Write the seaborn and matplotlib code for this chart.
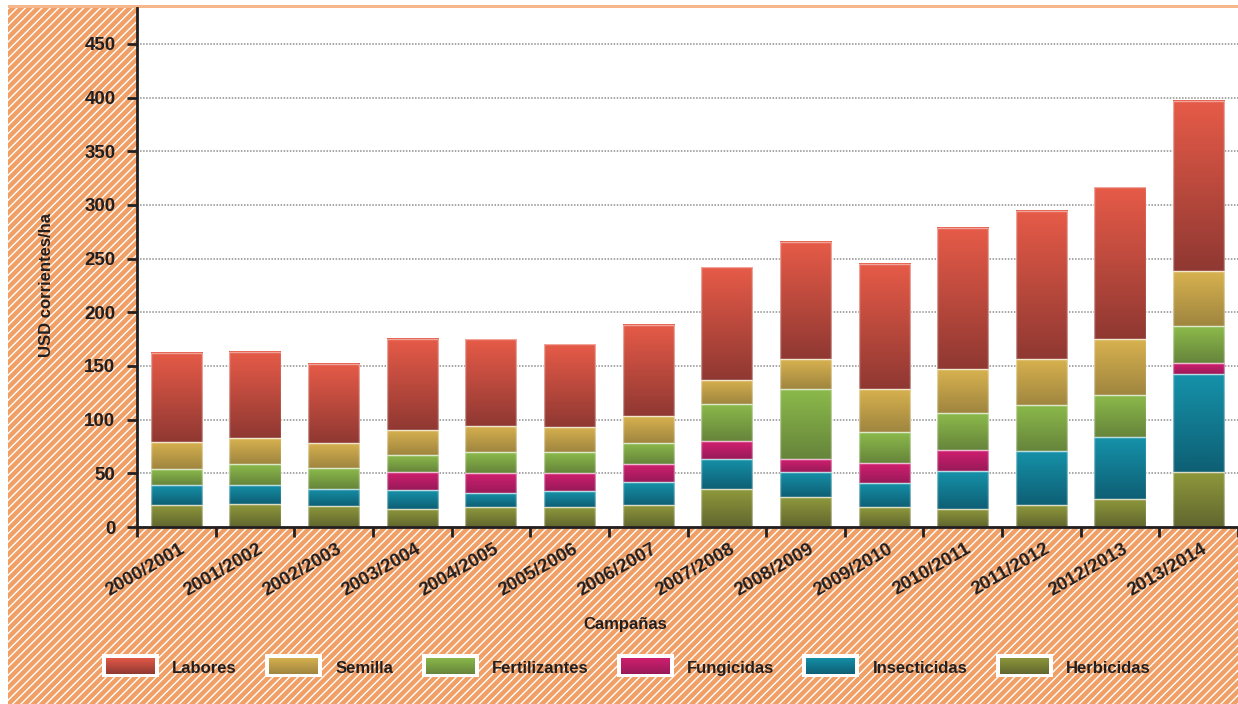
import numpy as np
import pandas as pd
import matplotlib
matplotlib.use("Agg")
import matplotlib.pyplot as plt
import seaborn as sns
from matplotlib.colors import LinearSegmentedColormap
from matplotlib.patches import Rectangle
from matplotlib.transforms import ScaledTranslation

# ---- data (USD corrientes/ha por campaña) ----
campanas = ["2000/2001", "2001/2002", "2002/2003", "2003/2004", "2004/2005",
            "2005/2006", "2006/2007", "2007/2008", "2008/2009", "2009/2010",
            "2010/2011", "2011/2012", "2012/2013", "2013/2014"]
herbicidas = [20.5, 21.4, 19.6, 17.1, 18.4, 18.4, 20.5, 35.1, 27.7, 18.4, 17.1, 20.2, 26.1, 51.5]
insecticidas = [18.6, 18.0, 16.1, 17.1, 13.6, 14.9, 21.1, 28.3, 23.5, 22.6, 34.8, 50.6, 57.5, 91.3]
fungicidas = [0.0, 0.0, 0.0, 17.0, 18.6, 17.3, 16.8, 16.4, 11.9, 18.6, 20.1, 0.0, 0.0, 10.0]
fertilizantes = [14.6, 19.0, 19.0, 15.6, 19.0, 19.0, 19.6, 34.5, 65.5, 28.6, 34.2, 42.9, 39.4, 34.2]
semilla = [25.3, 24.2, 23.3, 23.3, 24.5, 23.9, 25.1, 22.7, 27.6, 40.1, 40.7, 42.5, 51.9, 51.2]
labores = [83.0, 80.4, 74.0, 85.1, 80.9, 77.0, 85.1, 105.2, 109.3, 117.0, 132.0, 138.2, 141.6, 158.4]

y_ticks = [0, 50, 100, 150, 200, 250, 300, 350, 400, 450]

# stacking order (bottom -> top) with gradient colours (bottom, top)
layers = [
    ("Herbicidas", herbicidas, "#61662f", "#8f993b"),
    ("Insecticidas", insecticidas, "#0e5f74", "#1592aa"),
    ("Fungicidas", fungicidas, "#981a59", "#d31f70"),
    ("Fertilizantes", fertilizantes, "#66843b", "#8cbb4b"),
    ("Semilla", semilla, "#9f853f", "#d8b24f"),
    ("Labores", labores, "#8f3832", "#e75b48"),
]
legend_order = ["Labores", "Semilla", "Fertilizantes", "Fungicidas", "Insecticidas", "Herbicidas"]

df = pd.DataFrame({"campana": campanas, "Herbicidas": herbicidas, "Insecticidas": insecticidas,
                   "Fungicidas": fungicidas, "Fertilizantes": fertilizantes,
                   "Semilla": semilla, "Labores": labores})

sns.set_style("white")
plt.rcParams["font.family"] = ["Liberation Sans", "DejaVu Sans"]
plt.rcParams["hatch.color"] = "white"
plt.rcParams["hatch.linewidth"] = 1.0

TEXT = "#231f20"
ORANGE = "#f0a066"
W, H, DPI = 1238, 704, 100

fig = plt.figure(figsize=(W / DPI, H / DPI), dpi=DPI)
fig.patch.set_facecolor("white")

# hatched orange backdrop with a solid strip along its top edge
bg = Rectangle((8 / W, 0), 1 - 8 / W, 1 - 5 / H, transform=fig.transFigure,
               facecolor=ORANGE, edgecolor="white", hatch="////", linewidth=0, zorder=-10)
fig.add_artist(bg)
top_strip = Rectangle((8 / W, 1 - 7.5 / H), 1 - 8 / W, 2.5 / H, transform=fig.transFigure,
                      facecolor="#f5b68a", edgecolor="none", zorder=-9)
fig.add_artist(top_strip)

ax = fig.add_axes([137 / W, 1 - 527 / H, 1 - 137 / W, (527 - 7.5) / H])
ax.set_facecolor("white")

grad = np.linspace(0, 1, 256).reshape(-1, 1)
cmaps = {}
bottom = np.zeros(len(campanas))
for name, vals, c_bot, c_top in layers:
    cmap = LinearSegmentedColormap.from_list(name, [c_bot, c_top])
    cmaps[name] = cmap
    n0 = len(ax.patches)
    sns.barplot(data=df, x="campana", y=name, order=campanas, bottom=bottom,
                width=0.65, color=c_top, saturation=1, errorbar=None, ax=ax,
                edgecolor=(1, 1, 1, 0.45), linewidth=1.0, zorder=3)
    for p in ax.patches[n0:]:
        h = p.get_height()
        if h <= 0:
            p.set_visible(False)
            continue
        x0, y0, w = p.get_x(), p.get_y(), p.get_width()
        ax.imshow(grad, cmap=cmap, origin="lower", aspect="auto",
                  extent=(x0, x0 + w, y0, y0 + h), interpolation="bilinear", zorder=2)
        p.set_facecolor("none")
    bottom = bottom + np.asarray(vals)

ax.set_xlim(-0.5, -0.5 + (W - 137) / 79.0)
ax.set_ylim(0, 484)
ax.set_xlabel("")
ax.set_ylabel("")

# grid
ax.set_axisbelow(True)
ax.yaxis.grid(True, color="#8e8e8e", linestyle=(0, (1, 1)), linewidth=1.1)
ax.xaxis.grid(False)

# spines
for s in ["top", "right"]:
    ax.spines[s].set_visible(False)
for s in ["left", "bottom"]:
    ax.spines[s].set_color(TEXT)
    ax.spines[s].set_linewidth(2.0)
    ax.spines[s].set_zorder(5)

# y axis ticks
ax.set_yticks(y_ticks)
ax.set_yticklabels([str(v) for v in y_ticks])
ax.tick_params(axis="y", length=7, width=2, color=TEXT, pad=8.5, labelsize=13.5, labelcolor=TEXT,
               left=True, direction="out")
for lbl in ax.get_yticklabels():
    lbl.set_fontweight("bold")

# x axis: labels at centres, tick marks at category boundaries
ax.set_xticks(range(len(campanas)))
ax.set_xticklabels(campanas, rotation=30, ha="right", va="center", rotation_mode="anchor")
ax.set_xticks(np.arange(-0.5, len(campanas) - 0.4, 1.0), minor=True)
ax.tick_params(axis="x", which="major", length=0, pad=15, labelsize=13.5, labelcolor=TEXT, bottom=True)
ax.tick_params(axis="x", which="minor", length=7, width=2, color=TEXT, bottom=True, direction="out")
offset = ScaledTranslation(0.07, 0, fig.dpi_scale_trans)
for lbl in ax.get_xticklabels():
    lbl.set_fontweight("bold")
    lbl.set_transform(lbl.get_transform() + offset)

# axis titles
fig.text(625 / W, 1 - 624 / H, "Campañas", ha="center", va="center",
         fontsize=12, fontweight="bold", color=TEXT)
fig.text(47 / W, 1 - 285 / H, "USD corrientes/ha", ha="center", va="center", rotation=90,
         fontsize=12, fontweight="bold", color=TEXT)

# legend row
fig.canvas.draw()
renderer = fig.canvas.get_renderer()
x = 102.0
for name in legend_order:
    outer = Rectangle((x / W, 1 - 677 / H), 57 / W, 23 / H, transform=fig.transFigure,
                      facecolor="white", edgecolor="none", zorder=1)
    fig.add_artist(outer)
    sw = fig.add_axes([(x + 4) / W, 1 - 674 / H, 49 / W, 16 / H])
    sw.set_zorder(2)
    sw.imshow(grad, cmap=cmaps[name], origin="lower", aspect="auto", interpolation="bilinear")
    sw.set_axis_off()
    t = fig.text((x + 70) / W, 1 - 673 / H, name, ha="left", va="baseline",
                 fontsize=12, fontweight="bold", color=TEXT, zorder=3)
    bb = t.get_window_extent(renderer)
    x = bb.x1 + 28.5

fig.savefig("out.png", dpi=DPI)
